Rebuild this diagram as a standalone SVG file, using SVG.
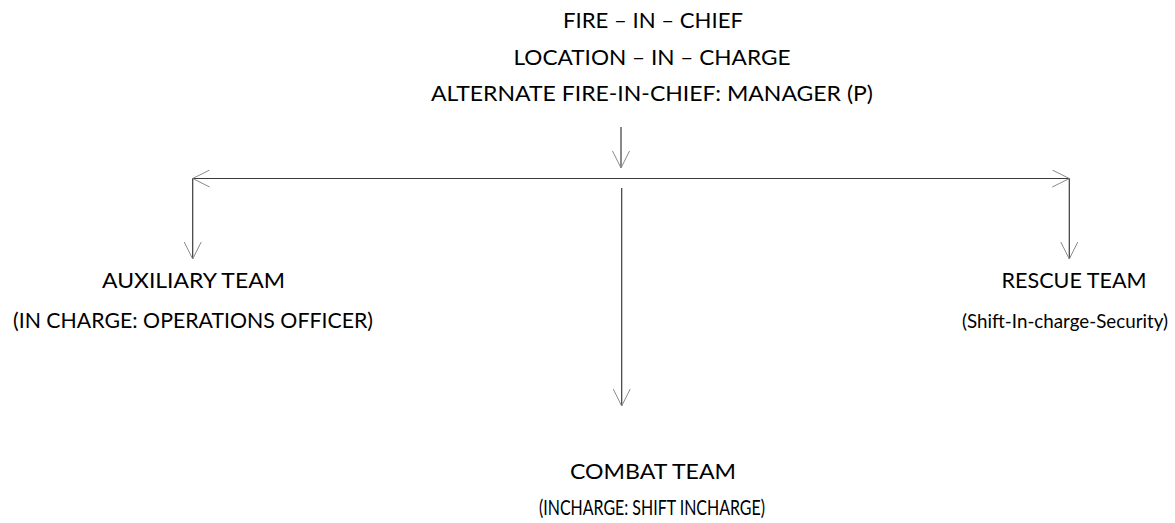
<svg xmlns="http://www.w3.org/2000/svg" width="1175" height="523" viewBox="0 0 1175 523">
<defs>
<marker id="arr" viewBox="0 0 18 18" refX="17" refY="9" markerWidth="18" markerHeight="18" markerUnits="userSpaceOnUse" orient="auto-start-reverse">
<path d="M0,0.5 L17,9 L0,17.5" fill="none" stroke="#8a8a8a" stroke-width="1"/>
</marker>
<style>
text{font-family:Lato,"Liberation Sans",Arial,sans-serif;font-size:21px;fill:#000;text-anchor:middle}
.c line{stroke:#3a3a3a;stroke-width:1.2;fill:none}
</style>
</defs>
<rect width="1175" height="523" fill="#fff"/>
<g id="fire-in-chief">
<text x="653" y="28" textLength="180" lengthAdjust="spacingAndGlyphs">FIRE – IN – CHIEF</text>
<text x="652" y="65" textLength="277" lengthAdjust="spacingAndGlyphs">LOCATION – IN – CHARGE</text>
<text x="652" y="101" textLength="442" lengthAdjust="spacingAndGlyphs">ALTERNATE FIRE-IN-CHIEF: MANAGER (P)</text>
</g>
<g id="auxiliary-team">
<text x="193.5" y="288" textLength="183" lengthAdjust="spacingAndGlyphs">AUXILIARY TEAM</text>
<text x="193" y="328" textLength="360" lengthAdjust="spacingAndGlyphs">(IN CHARGE: OPERATIONS OFFICER)</text>
</g>
<g id="rescue-team">
<text x="1074" y="288" textLength="145" lengthAdjust="spacingAndGlyphs">RESCUE TEAM</text>
<text x="1065" y="328" textLength="206" lengthAdjust="spacingAndGlyphs" style="font-size:19px">(Shift-In-charge-Security)</text>
</g>
<g id="combat-team">
<text x="653" y="479" textLength="166" lengthAdjust="spacingAndGlyphs">COMBAT TEAM</text>
<text x="652" y="515" textLength="226" lengthAdjust="spacingAndGlyphs">(INCHARGE: SHIFT INCHARGE)</text>
</g>
<g id="connectors" class="c">
<line x1="621" y1="127" x2="621" y2="168" marker-end="url(#arr)"/>
<line x1="192.7" y1="178.5" x2="1069.3" y2="178.5" marker-start="url(#arr)" marker-end="url(#arr)"/>
<line x1="192.7" y1="178.5" x2="192.7" y2="259" marker-end="url(#arr)"/>
<line x1="1069.3" y1="178.5" x2="1069.3" y2="259" marker-end="url(#arr)"/>
<line x1="621.7" y1="188" x2="621.7" y2="406" marker-end="url(#arr)"/>
</g>
</svg>
